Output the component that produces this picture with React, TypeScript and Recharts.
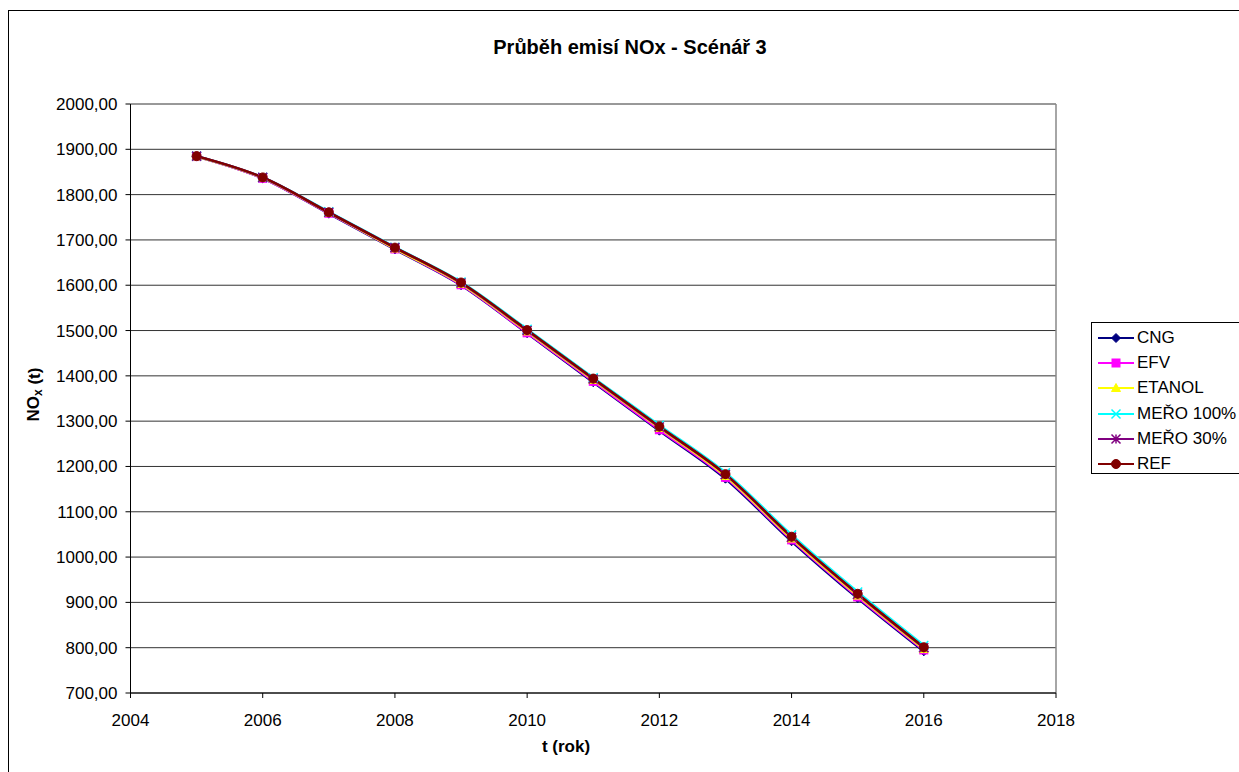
import React from 'react';
import { LineChart, Line, XAxis, YAxis, CartesianGrid, ReferenceLine } from 'recharts';

// NOx emissions (t) per year, scenario 3
const years = [2005, 2006, 2007, 2008, 2009, 2010, 2011, 2012, 2013, 2014, 2015, 2016];
const cng = [1884, 1836, 1758, 1679, 1600, 1494, 1386, 1279, 1173, 1035, 909, 792];
const efv = [1884, 1836, 1759, 1680, 1601, 1495, 1388, 1281, 1176, 1038, 912, 795];
const etanol = [1884, 1837, 1760, 1681, 1603, 1498, 1391, 1285, 1179, 1041, 915, 797];
const mero100 = [1885, 1838, 1762, 1684, 1607, 1503, 1396, 1291, 1186, 1049, 923, 805];
const mero30 = [1885, 1838, 1761, 1683, 1605, 1500, 1393, 1287, 1182, 1044, 918, 800];
const ref = [1885, 1838, 1761, 1683, 1606, 1501, 1394, 1288, 1183, 1045, 919, 801];

const xTicks = [2004, 2006, 2008, 2010, 2012, 2014, 2016, 2018];
const yTicks = [700, 800, 900, 1000, 1100, 1200, 1300, 1400, 1500, 1600, 1700, 1800, 1900, 2000];

type MarkerKind = 'diamond' | 'square' | 'triangle' | 'cross' | 'star' | 'circle';

const series: { key: string; color: string; marker: MarkerKind; values: number[] }[] = [
  { key: 'CNG', color: '#000080', marker: 'diamond', values: cng },
  { key: 'EFV', color: '#FF00FF', marker: 'square', values: efv },
  { key: 'ETANOL', color: '#FFFF00', marker: 'triangle', values: etanol },
  { key: 'MEŘO 100%', color: '#00FFFF', marker: 'cross', values: mero100 },
  { key: 'MEŘO 30%', color: '#800080', marker: 'star', values: mero30 },
  { key: 'REF', color: '#800000', marker: 'circle', values: ref },
];

const data = years.map((year, i) => {
  const row: Record<string, number> = { year };
  series.forEach((s) => (row[s.key] = s.values[i]));
  return row;
});

const FONT = '"Liberation Sans", Arial, sans-serif';

const Marker = ({ kind, color, cx, cy }: { kind: MarkerKind; color: string; cx: number; cy: number }) => {
  const r = 4.5;
  switch (kind) {
    case 'diamond':
      return <path d={`M${cx},${cy - r} L${cx + r},${cy} L${cx},${cy + r} L${cx - r},${cy} Z`} fill={color} stroke={color} />;
    case 'square':
      return <rect x={cx - 4} y={cy - 4} width={8} height={8} fill={color} stroke={color} />;
    case 'triangle':
      return <path d={`M${cx},${cy - r} L${cx + r},${cy + r - 1} L${cx - r},${cy + r - 1} Z`} fill={color} stroke={color} />;
    case 'cross':
      return (
        <path d={`M${cx - r},${cy - r} L${cx + r},${cy + r} M${cx - r},${cy + r} L${cx + r},${cy - r}`} stroke={color} strokeWidth={1.5} />
      );
    case 'star':
      return (
        <path
          d={`M${cx - r},${cy - r} L${cx + r},${cy + r} M${cx - r},${cy + r} L${cx + r},${cy - r} M${cx},${cy - r} L${cx},${cy + r}`}
          stroke={color}
          strokeWidth={1.5}
        />
      );
    default:
      return <circle cx={cx} cy={cy} r={r} fill={color} stroke={color} />;
  }
};

const fmt = (v: number) => v.toFixed(2).replace('.', ',');

const YTitle = (props: any) => {
  const { viewBox } = props;
  const cx = viewBox.x - 17;
  const cy = viewBox.y + viewBox.height / 2 - 4;
  return (
    <text
      x={cx}
      y={cy}
      transform={`rotate(-90, ${cx}, ${cy})`}
      textAnchor="middle"
      dominantBaseline="central"
      fontFamily={FONT}
      fontWeight="bold"
      fontSize={17}
      fill="#000"
    >
      NO
      <tspan dy={4} fontSize={12}>x</tspan>
      <tspan dy={-4}> (t)</tspan>
    </text>
  );
};

const XTitle = (props: any) => {
  const { viewBox } = props;
  return (
    <text
      x={viewBox.x + 435.5}
      y={viewBox.y + 59}
      textAnchor="middle"
      fontFamily={FONT}
      fontWeight="bold"
      fontSize={17}
      fill="#000"
    >
      t (rok)
    </text>
  );
};

export default function App() {
  return (
    <div
      style={{
        position: 'fixed',
        left: 8,
        top: 10,
        width: 1240,
        height: 770,
        borderLeft: '1px solid #000',
        borderTop: '1px solid #000',
        boxSizing: 'border-box',
        overflow: 'hidden',
        background: '#fff',
        fontFamily: FONT,
      }}
    >
      <div
        style={{
          position: 'absolute',
          left: 0,
          top: 24,
          width: 1242,
          textAlign: 'center',
          fontSize: 20,
          lineHeight: '24px',
          fontWeight: 'bold',
          color: '#000',
        }}
      >
        Průběh emisí NOx - Scénář 3
      </div>
      <LineChart width={1231} height={761} data={data} margin={{ top: 93, right: 184, bottom: 49, left: 41.5 }}>
        <CartesianGrid vertical={false} stroke="#333" horizontalValues={yTicks} />
        <ReferenceLine x={2018} stroke="#888" strokeWidth={1.5} />
        <XAxis
          dataKey="year"
          type="number"
          domain={[2004, 2018]}
          ticks={xTicks}
          allowDataOverflow
          height={30}
          stroke="#000"
          tickSize={5}
          tickMargin={16}
          tick={{ fill: '#000', fontSize: 17, fontFamily: FONT }}
          label={{ content: XTitle }}
        />
        <YAxis
          type="number"
          domain={[700, 2000]}
          ticks={yTicks}
          width={80}
          stroke="#000"
          tickSize={5}
          tickMargin={8}
          tickFormatter={fmt}
          tick={{ fill: '#000', fontSize: 17, fontFamily: FONT }}
          label={{ content: YTitle }}
        />
        {series.map((s) => (
          <Line
            key={s.key}
            dataKey={s.key}
            type="monotone"
            stroke={s.color}
            strokeWidth={2.5}
            isAnimationActive={false}
            dot={(p: any) => <Marker key={`${s.key}-${p.index}`} kind={s.marker} color={s.color} cx={p.cx} cy={p.cy} />}
            activeDot={false}
          />
        ))}
      </LineChart>
      <div
        style={{
          position: 'absolute',
          left: 1082,
          top: 311,
          width: 200,
          height: 152,
          border: '1px solid #000',
          boxSizing: 'border-box',
          paddingTop: 2,
          background: '#fff',
        }}
      >
        {series.map((s) => (
          <div key={s.key} style={{ display: 'flex', alignItems: 'center', height: 25.3 }}>
            <svg width={45} height={20} style={{ display: 'block', flex: 'none' }}>
              <line x1={6} y1={10} x2={42} y2={10} stroke={s.color} strokeWidth={2} />
              <Marker kind={s.marker} color={s.color} cx={24} cy={10} />
            </svg>
            <span style={{ fontSize: 17, color: '#000', whiteSpace: 'nowrap' }}>{s.key}</span>
          </div>
        ))}
      </div>
    </div>
  );
}
